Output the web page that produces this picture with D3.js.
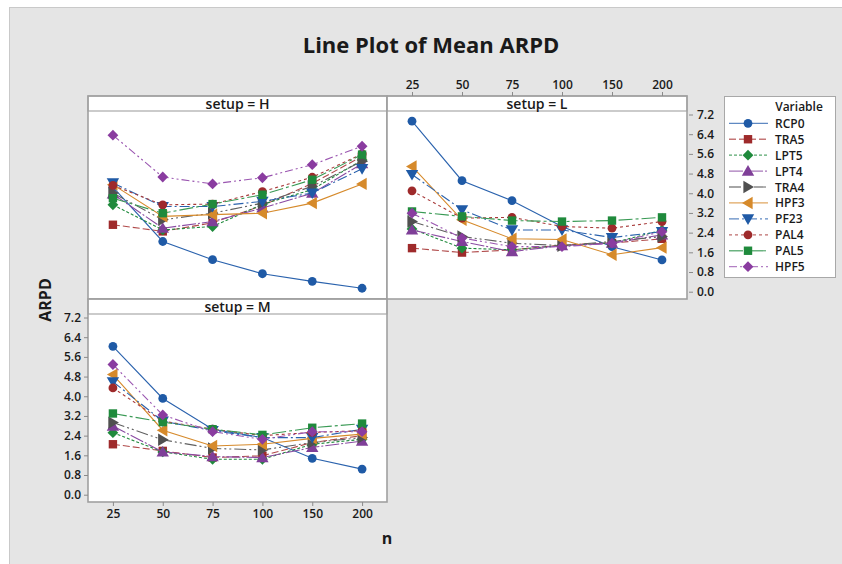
<!DOCTYPE html>
<html>
<head>
<meta charset="utf-8">
<script src="https://cdn.jsdelivr.net/npm/d3@7"></script>
<style>
  body { margin: 0; background: #ffffff; }
  svg text { font-family: "Open Sans", "Noto Sans", sans-serif; fill: #1a1a1a; }
</style>
</head>
<body>
<div id="chart"></div>
<script>
// categories
const nLevels = ["25", "50", "75", "100", "150", "200"];
const variables = ["RCP0", "TRA5", "LPT5", "LPT4", "TRA4", "HPF3", "PF23", "PAL4", "PAL5", "HPF5"];
const yTicks = [0.0, 0.8, 1.6, 2.4, 3.2, 4.0, 4.8, 5.6, 6.4, 7.2];

// mean ARPD, one row per variable (same order as variables)
const valuesH = [
  [4.25, 2.04, 1.30, 0.73, 0.42, 0.14],
  [2.72, 2.45, 2.80, 3.50, 4.40, 5.50],
  [3.53, 2.51, 2.65, 3.55, 4.15, 5.35],
  [3.97, 2.58, 2.85, 3.40, 4.00, 5.20],
  [4.01, 2.92, 3.19, 3.60, 4.28, 5.30],
  [4.35, 3.06, 3.13, 3.19, 3.60, 4.38],
  [4.42, 3.46, 3.46, 3.67, 4.01, 5.00],
  [4.32, 3.53, 3.56, 4.07, 4.65, 5.60],
  [3.80, 3.19, 3.56, 3.94, 4.55, 5.57],
  [6.36, 4.66, 4.38, 4.63, 5.16, 5.91]
];
const valuesL = [
  [6.93, 4.51, 3.70, 2.65, 1.83, 1.29],
  [1.77, 1.59, 1.70, 1.90, 1.98, 2.15],
  [2.55, 1.77, 1.70, 1.88, 1.98, 2.50],
  [2.51, 2.04, 1.63, 1.87, 1.97, 2.31],
  [2.85, 2.24, 1.97, 1.87, 2.04, 2.24],
  [5.09, 2.92, 2.15, 2.12, 1.50, 1.79],
  [4.76, 3.33, 2.51, 2.51, 2.20, 2.44],
  [4.10, 2.99, 3.02, 2.65, 2.58, 2.85],
  [3.26, 3.06, 2.89, 2.85, 2.89, 3.02],
  [3.19, 2.18, 1.83, 1.83, 1.97, 2.44]
];
const valuesM = [
  [6.03, 3.91, 2.66, 2.32, 1.48, 1.04],
  [2.05, 1.78, 1.51, 1.58, 2.12, 2.40],
  [2.52, 1.74, 1.44, 1.44, 2.05, 2.25],
  [2.79, 1.74, 1.55, 1.51, 1.92, 2.18],
  [2.93, 2.23, 1.88, 1.82, 2.12, 2.32],
  [4.88, 2.62, 1.98, 2.05, 2.29, 2.46],
  [4.59, 2.99, 2.60, 2.32, 2.32, 2.66],
  [4.34, 2.99, 2.66, 2.40, 2.53, 2.60],
  [3.30, 2.95, 2.66, 2.43, 2.72, 2.89],
  [5.29, 3.24, 2.56, 2.25, 2.56, 2.56]
];

// look of each series
const styles = [
  { color: "#1f5aa6", line: "#2a62ad", dash: null,            shape: "circle" },
  { color: "#9e2a2b", line: "#b04a4a", dash: "7,3",           shape: "square" },
  { color: "#1f8a3c", line: "#1f8a3c", dash: "3,2",           shape: "diamond" },
  { color: "#7f3f98", line: "#8a4aa2", dash: "14,2,2,2",      shape: "up" },
  { color: "#505050", line: "#606060", dash: "12,3,2,3,2,3",  shape: "right" },
  { color: "#d68a2b", line: "#d68a2b", dash: null,            shape: "left" },
  { color: "#1f5aa6", line: "#2a62ad", dash: "10,3,2,3",      shape: "down" },
  { color: "#9e2a2b", line: "#a83a3a", dash: "3,3",           shape: "circle" },
  { color: "#1f8a3c", line: "#3a9a55", dash: "14,3,3,3",      shape: "square" },
  { color: "#8a3ca0", line: "#9a55b0", dash: "8,3,2,3,2,3",   shape: "diamond" }
];

function symbolPath(shape) {
  switch (shape) {
    case "circle": return "M4.4,0A4.4,4.4 0 1,1 -4.4,0A4.4,4.4 0 1,1 4.4,0Z";
    case "square": return "M-4.2,-4.2H4.2V4.2H-4.2Z";
    case "diamond": return "M0,-5.4L5.4,0L0,5.4L-5.4,0Z";
    case "up": return "M0,-6L6.2,4.6H-6.2Z";
    case "down": return "M0,6L6.2,-4.6H-6.2Z";
    case "right": return "M6,0L-4.6,6.2V-6.2Z";
    case "left": return "M-6,0L4.6,6.2V-6.2Z";
  }
}

const W = 842, H = 564;
const svg = d3.select("#chart").append("svg")
  .attr("width", W).attr("height", H);

svg.append("rect")
  .attr("x", 9.5).attr("y", 7.5)
  .attr("width", W).attr("height", H)
  .attr("fill", "#e5e5e5").attr("stroke", "#c9c9c9");

svg.append("text")
  .attr("x", 431).attr("y", 53)
  .attr("text-anchor", "middle")
  .style("font-size", "22px").style("font-weight", "bold")
  .text("Line Plot of Mean ARPD");

// panel boxes
const panels = [
  { name: "H", x0: 88, x1: 387, top: 96, data: valuesH },
  { name: "L", x0: 387, x1: 687, top: 96, data: valuesL },
  { name: "M", x0: 88, x1: 387, top: 299, data: valuesM }
];
const stripH = 15, plotH = 188;

const line = d3.line();

panels.forEach(function(p) {
  const plotTop = p.top + stripH;
  const plotBottom = plotTop + plotH;
  p.x = d3.scalePoint().domain(nLevels).range([p.x0, p.x1]).padding(0.5);
  p.y = d3.scaleLinear().domain([0, 7.2]).range([plotBottom - 7.3, plotTop + 3.5]);

  const g = svg.append("g");
  g.append("rect")
    .attr("x", p.x0).attr("y", plotTop)
    .attr("width", p.x1 - p.x0).attr("height", plotH)
    .attr("fill", "#ffffff");
  g.append("rect")
    .attr("x", p.x0).attr("y", p.top)
    .attr("width", p.x1 - p.x0).attr("height", stripH)
    .attr("fill", "#ffffff").attr("stroke", "#a8a8a8").attr("stroke-width", 1.2);
  g.append("text")
    .attr("x", (p.x0 + p.x1) / 2).attr("y", p.top + 12.5)
    .attr("text-anchor", "middle")
    .style("font-size", "14px").style("font-weight", 600)
    .text("setup = " + p.name);

  p.data.forEach(function(vals, i) {
    const st = styles[i];
    const pts = vals.map(function(v, j) { return [p.x(nLevels[j]), p.y(v)]; });
    g.append("path")
      .attr("d", line(pts))
      .attr("fill", "none")
      .attr("stroke", st.line)
      .attr("stroke-width", 1.1)
      .attr("stroke-dasharray", st.dash);
    g.selectAll(null).data(pts).enter().append("path")
      .attr("d", symbolPath(st.shape))
      .attr("transform", function(d) { return "translate(" + d[0] + "," + d[1] + ")"; })
      .attr("fill", st.color);
  });

  g.append("rect")
    .attr("x", p.x0).attr("y", p.top)
    .attr("width", p.x1 - p.x0).attr("height", stripH + plotH)
    .attr("fill", "none").attr("stroke", "#a0a0a0").attr("stroke-width", 1.6);
});

function styleAxis(sel) {
  sel.select(".domain").remove();
  sel.selectAll(".tick line").attr("stroke", "#8a8a8a");
  sel.selectAll(".tick text")
    .style("font-family", "'Open Sans', sans-serif")
    .style("font-size", "12px").style("font-weight", 600)
    .attr("fill", "#1a1a1a");
}

const pM = panels[2], pL = panels[1];

svg.append("g")
  .attr("transform", "translate(" + pM.x0 + ",0)")
  .call(d3.axisLeft(pM.y).tickValues(yTicks).tickFormat(d3.format(".1f")).tickSize(4).tickPadding(3))
  .call(styleAxis);

svg.append("g")
  .attr("transform", "translate(0," + (pM.top + stripH + plotH) + ")")
  .call(d3.axisBottom(pM.x).tickSize(4).tickPadding(3))
  .call(styleAxis);

svg.append("g")
  .attr("transform", "translate(" + (pL.x1 + 2) + ",0)")
  .call(d3.axisRight(pL.y).tickValues(yTicks).tickFormat(d3.format(".1f")).tickSize(4).tickPadding(4))
  .call(styleAxis);

svg.append("g")
  .attr("transform", "translate(0," + pL.top + ")")
  .call(d3.axisTop(pL.x).tickSize(4).tickPadding(3))
  .call(styleAxis);

// axis titles
svg.append("text")
  .attr("transform", "translate(51,300) rotate(-90)")
  .attr("text-anchor", "middle")
  .style("font-size", "16px").style("font-weight", "bold")
  .text("ARPD");

svg.append("text")
  .attr("x", 387).attr("y", 544)
  .attr("text-anchor", "middle")
  .style("font-size", "16px").style("font-weight", "bold")
  .text("n");

// legend
const leg = svg.append("g");
leg.append("rect")
  .attr("x", 724.5).attr("y", 96.5).attr("width", 111).attr("height", 181)
  .attr("fill", "#ffffff").attr("stroke", "#a8a8a8");
leg.append("text")
  .attr("x", 799).attr("y", 110.5)
  .attr("text-anchor", "middle")
  .style("font-size", "12px").style("font-weight", 600)
  .text("Variable");

variables.forEach(function(v, i) {
  const st = styles[i];
  const ly = 123.3 + i * 15.93;
  leg.append("line")
    .attr("x1", 729).attr("x2", 768).attr("y1", ly).attr("y2", ly)
    .attr("stroke", st.line).attr("stroke-width", 1.3)
    .attr("stroke-opacity", 0.75)
    .attr("stroke-dasharray", st.dash);
  leg.append("path")
    .attr("d", symbolPath(st.shape))
    .attr("transform", "translate(748," + ly + ")")
    .attr("fill", st.color);
  leg.append("text")
    .attr("x", 775).attr("y", ly + 4.5)
    .style("font-size", "12px").style("font-weight", 600)
    .text(v);
});
</script>
</body>
</html>
